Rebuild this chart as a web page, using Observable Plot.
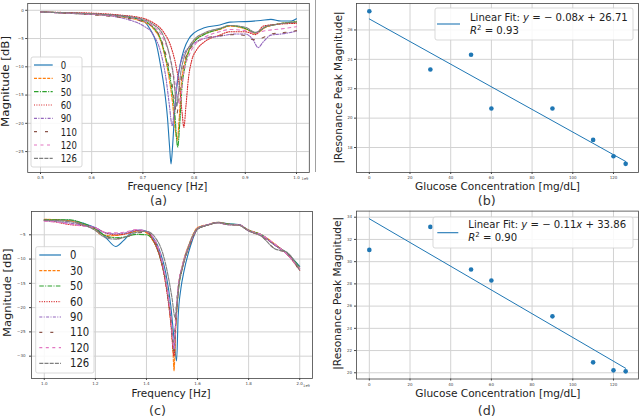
<!DOCTYPE html>
<html><head><meta charset="utf-8">
<script src="https://cdn.jsdelivr.net/npm/d3@7"></script>
<script src="https://cdn.jsdelivr.net/npm/@observablehq/plot@0.6"></script>
<style>
body{margin:0;background:#fff;}
#wrap{position:relative;width:640px;height:417px;overflow:hidden;background:#fff;}
</style></head><body><div id="wrap"></div>
<script>
// ---------- data ----------
const concentrations = ["0","30","50","60","90","110","120","126"];

// Panel (a): frequency (x1e9 Hz) vs magnitude (dB)
const specA_0   = [[0.50,-0.3],[0.55,-0.5],[0.60,-0.7],[0.65,-0.9],[0.68,-1.3],[0.70,-1.8],[0.715,-3.5],[0.725,-5.5],[0.735,-10],[0.742,-14],[0.748,-19],[0.752,-24],[0.755,-27.2],[0.758,-24],[0.762,-18],[0.767,-13],[0.773,-9.5],[0.78,-7],[0.79,-5],[0.80,-4],[0.82,-3.1],[0.85,-2.6],[0.87,-2.1],[0.90,-2.0],[0.93,-1.8],[0.95,-1.6],[0.97,-1.9],[0.99,-1.9],[1.00,-1.5]];
const specA_30  = [[0.50,-0.3],[0.55,-0.5],[0.60,-0.7],[0.65,-1.1],[0.70,-2.0],[0.72,-3.2],[0.735,-5.5],[0.745,-9],[0.752,-12.5],[0.758,-16.5],[0.763,-21],[0.767,-23],[0.771,-19],[0.775,-13],[0.78,-10],[0.79,-7],[0.80,-5.5],[0.82,-4.2],[0.85,-3.4],[0.87,-2.8],[0.90,-3.3],[0.92,-4.1],[0.94,-3.0],[0.96,-2.5],[1.00,-2.1]];
const specA_50  = [[0.50,-0.3],[0.55,-0.45],[0.60,-0.65],[0.65,-1.0],[0.70,-1.8],[0.72,-3.0],[0.735,-5.2],[0.745,-8.5],[0.755,-13],[0.762,-18],[0.768,-24.2],[0.772,-20],[0.776,-14],[0.782,-10],[0.79,-7.2],[0.80,-5.6],[0.82,-4.3],[0.85,-3.3],[0.87,-2.7],[0.90,-3.2],[0.92,-4.0],[0.94,-2.9],[0.96,-2.5],[1.00,-2.0]];
const specA_60  = [[0.50,-0.3],[0.55,-0.4],[0.60,-0.5],[0.65,-0.8],[0.70,-1.4],[0.72,-2.2],[0.74,-3.8],[0.755,-6.5],[0.765,-10],[0.772,-14],[0.777,-18.5],[0.780,-20.7],[0.784,-17],[0.789,-12],[0.795,-9],[0.805,-7],[0.82,-5.6],[0.85,-4.4],[0.87,-3.8],[0.90,-3.8],[0.92,-4.3],[0.935,-2.8],[0.96,-2.5],[1.00,-2.3]];
const specA_90  = [[0.50,-0.3],[0.55,-0.5],[0.60,-0.7],[0.65,-1.2],[0.68,-1.9],[0.70,-2.7],[0.72,-4.3],[0.735,-7.5],[0.745,-12],[0.752,-17],[0.757,-20.4],[0.762,-17],[0.767,-12.5],[0.772,-10],[0.78,-7.8],[0.79,-6.5],[0.80,-5.8],[0.82,-5.0],[0.85,-4.6],[0.88,-4.2],[0.90,-4.2],[0.915,-5.2],[0.925,-6.6],[0.935,-5.6],[0.95,-4.4],[0.97,-4.2],[1.00,-3.7]];
const specA_110 = [[0.50,-0.3],[0.55,-0.5],[0.60,-0.8],[0.65,-1.2],[0.70,-2.0],[0.72,-3.0],[0.735,-5],[0.748,-9],[0.757,-13],[0.763,-17],[0.766,-18.5],[0.77,-16],[0.775,-12],[0.78,-9.5],[0.79,-7.2],[0.80,-6],[0.82,-5],[0.85,-4.5],[0.88,-4.3],[0.90,-4.5],[0.915,-5.2],[0.93,-5.0],[0.95,-4.2],[0.97,-4.0],[1.00,-3.6]];
const specA_120 = [[0.50,-0.3],[0.55,-0.5],[0.60,-0.7],[0.65,-1.0],[0.70,-1.8],[0.72,-2.8],[0.74,-5],[0.755,-9],[0.763,-13],[0.769,-16],[0.772,-16.5],[0.776,-14],[0.78,-11],[0.79,-8],[0.80,-6.3],[0.82,-4.8],[0.85,-3.8],[0.87,-3.4],[0.90,-3.6],[0.92,-4.0],[0.94,-3.6],[0.97,-3.3],[1.00,-2.9]];
const specA_126 = [[0.50,-0.3],[0.55,-0.45],[0.60,-0.6],[0.65,-0.9],[0.70,-1.6],[0.72,-2.5],[0.74,-4.5],[0.752,-8],[0.76,-12],[0.764,-15.5],[0.766,-17],[0.769,-15],[0.774,-11],[0.78,-8.5],[0.79,-6.5],[0.80,-5.2],[0.82,-4.0],[0.85,-3.2],[0.87,-2.7],[0.90,-3.0],[0.92,-3.9],[0.94,-2.9],[0.96,-2.5],[1.00,-2.1]];

// Panel (c): frequency (x1e9 Hz) vs magnitude (dB)
const specC_0   = [[1.00,-1.9],[1.05,-1.9],[1.10,-2.0],[1.15,-2.6],[1.20,-3.6],[1.24,-5.5],[1.28,-7.4],[1.31,-6.2],[1.34,-4.6],[1.38,-4.0],[1.42,-5.2],[1.45,-8],[1.475,-12.7],[1.495,-19.5],[1.508,-26.4],[1.518,-31],[1.524,-22],[1.535,-16],[1.547,-12.5],[1.573,-7.2],[1.60,-3.8],[1.64,-3.0],[1.68,-2.4],[1.72,-2.7],[1.76,-2.9],[1.80,-4.0],[1.85,-5.0],[1.90,-7.0],[1.95,-8.8],[2.00,-11.5]];
const specC_30  = [[1.00,-1.8],[1.05,-1.9],[1.10,-2.1],[1.15,-2.8],[1.20,-4.0],[1.22,-4.9],[1.26,-5.2],[1.30,-5.0],[1.34,-4.5],[1.38,-4.2],[1.42,-5.8],[1.45,-9],[1.47,-13.5],[1.49,-20.5],[1.503,-28],[1.508,-33],[1.514,-25],[1.525,-16],[1.54,-11.5],[1.57,-6.5],[1.60,-3.5],[1.64,-2.9],[1.68,-2.4],[1.72,-2.8],[1.76,-3.0],[1.80,-4.0],[1.85,-5.0],[1.90,-6.8],[1.95,-9],[2.00,-11.8]];
const specC_50  = [[1.00,-1.9],[1.05,-1.9],[1.10,-1.9],[1.15,-2.6],[1.20,-3.8],[1.24,-5.2],[1.28,-5.6],[1.32,-5.4],[1.36,-4.9],[1.40,-5.0],[1.43,-6.5],[1.455,-10],[1.475,-14.5],[1.495,-22],[1.508,-29],[1.514,-24],[1.525,-16.5],[1.54,-12],[1.57,-7],[1.60,-3.8],[1.64,-3.0],[1.68,-2.5],[1.72,-2.8],[1.76,-2.9],[1.80,-4.1],[1.85,-5.0],[1.90,-7.0],[1.95,-8.8],[2.00,-11.7]];
const specC_60  = [[1.00,-2.0],[1.05,-2.4],[1.10,-2.9],[1.15,-3.1],[1.20,-3.6],[1.24,-4.6],[1.28,-5.0],[1.32,-4.8],[1.36,-4.1],[1.40,-4.4],[1.43,-6.5],[1.455,-10],[1.475,-15],[1.495,-23],[1.508,-30],[1.514,-24],[1.525,-16],[1.54,-12],[1.57,-7],[1.60,-3.8],[1.64,-3.0],[1.68,-2.5],[1.72,-2.9],[1.76,-2.9],[1.80,-4.2],[1.85,-5.2],[1.90,-7.0],[1.95,-9.0],[2.00,-12.3]];
const specC_90  = [[1.00,-2.1],[1.05,-2.3],[1.10,-2.6],[1.15,-3.0],[1.20,-3.5],[1.24,-4.6],[1.28,-4.8],[1.32,-4.6],[1.36,-4.0],[1.40,-4.3],[1.43,-6],[1.455,-9.5],[1.475,-14.5],[1.495,-22],[1.508,-28.5],[1.514,-23],[1.525,-15.5],[1.54,-11.5],[1.57,-6.8],[1.60,-3.7],[1.64,-2.9],[1.68,-2.5],[1.72,-2.9],[1.76,-2.9],[1.80,-4.2],[1.85,-5.1],[1.90,-7.0],[1.95,-9.0],[2.00,-12.0]];
const specC_110 = [[1.00,-2.0],[1.05,-2.0],[1.10,-2.3],[1.15,-2.9],[1.20,-4.0],[1.24,-5.3],[1.28,-5.8],[1.32,-5.5],[1.36,-4.6],[1.40,-4.5],[1.43,-6],[1.455,-9.5],[1.475,-14.5],[1.495,-22],[1.508,-28],[1.514,-22],[1.525,-15.5],[1.54,-11.8],[1.57,-7],[1.60,-3.8],[1.64,-3.0],[1.68,-2.5],[1.72,-2.9],[1.76,-3.0],[1.80,-4.2],[1.85,-5.3],[1.90,-7.8],[1.95,-8.8],[2.00,-12.5]];
const specC_120 = [[1.00,-2.2],[1.05,-2.4],[1.10,-2.8],[1.15,-3.2],[1.20,-3.6],[1.24,-4.5],[1.28,-4.6],[1.32,-4.4],[1.36,-3.9],[1.40,-4.3],[1.43,-5.8],[1.455,-9],[1.475,-14],[1.495,-21.5],[1.508,-28.5],[1.514,-23],[1.525,-15.5],[1.54,-11.5],[1.57,-6.8],[1.60,-3.7],[1.64,-2.9],[1.68,-2.5],[1.72,-2.9],[1.76,-2.9],[1.80,-4.1],[1.85,-5.0],[1.90,-6.8],[1.95,-9],[2.00,-12.0]];
const specC_126 = [[1.00,-2.0],[1.05,-2.1],[1.10,-2.3],[1.15,-2.9],[1.20,-4.1],[1.24,-5.6],[1.28,-5.9],[1.32,-5.4],[1.36,-4.5],[1.40,-4.3],[1.44,-6],[1.465,-9],[1.485,-13.5],[1.50,-18],[1.512,-22],[1.518,-20],[1.528,-15],[1.545,-11],[1.57,-6.6],[1.60,-3.7],[1.64,-3.0],[1.68,-2.5],[1.72,-2.9],[1.76,-3.0],[1.80,-4.2],[1.85,-5.3],[1.90,-7.8],[1.95,-8.6],[2.00,-12.3]];

// Panels (b) and (d): glucose concentration vs |resonance peak magnitude|
const glucose = [0, 30, 50, 60, 90, 110, 120, 126];
const peakB = [27.27, 23.31, 24.31, 20.66, 20.66, 18.52, 17.41, 16.89];
const peakD = [31.06, 33.13, 29.29, 28.30, 25.08, 20.94, 20.22, 20.13];
const fitX = [0, 126];
const fitB = [26.75, 17.05];
const fitD = [33.86, 20.40];

// tick values
const xTicksA = [0.5, 0.6, 0.7, 0.8, 0.9, 1.0];
const yTicksA = [0, -5, -10, -15, -20, -25];
const xTicksC = [1.0, 1.2, 1.4, 1.6, 1.8, 2.0];
const yTicksC = [-5, -10, -15, -20, -25, -30];
const xTicksG = [0, 20, 40, 60, 80, 100, 120];
const yTicksB = [18, 20, 22, 24, 26];
const yTicksD = [20, 22, 24, 26, 28, 30, 32, 34];

// ---------- styles ----------
const seriesColors = ["#1f77b4","#ff7f0e","#2ca02c","#d62728","#9467bd","#8c564b","#e377c2","#7f7f7f"];
const seriesDashes = [null,"3,1.4","4.5,1.4,1,1.4","1,1.4","3,1.4,1,1.4","3,8","3,3.5","4,1.2"];
const FONT = "DejaVu Sans";
const TXT = "#222";

const specA = [specA_0,specA_30,specA_50,specA_60,specA_90,specA_110,specA_120,specA_126];
const specC = [specC_0,specC_30,specC_50,specC_60,specC_90,specC_110,specC_120,specC_126];
const toRows = (arr) => arr.map(([f, db]) => ({f, db}));

const wrap = document.getElementById("wrap");
const minusFmt = d => (d < 0 ? "\u2212" : "") + Math.abs(d);

function panel(cfg) {
  const svg = Plot.plot({
    width: cfg.w, height: cfg.h,
    marginLeft: cfg.m[0], marginRight: cfg.m[1], marginTop: cfg.m[2], marginBottom: cfg.m[3],
    x: {domain: cfg.xd, axis: null},
    y: {domain: cfg.yd, axis: null},
    style: {background: "transparent", fontFamily: FONT, overflow: "visible"},
    marks: [
      Plot.gridX(cfg.xt, {stroke: "#d2d2d2", strokeOpacity: 1, strokeWidth: 1}),
      Plot.gridY(cfg.yt, {stroke: "#d2d2d2", strokeOpacity: 1, strokeWidth: 1}),
      ...cfg.marks,
      Plot.frame({stroke: "#444", strokeWidth: 0.8}),
      Plot.axisX(cfg.xt, {tickSize: 2, tickPadding: cfg.xpad, fontSize: 4, color: "#444", tickFormat: cfg.xf, label: null}),
      Plot.axisY(cfg.yt, {tickSize: 2, tickPadding: cfg.ypad, fontSize: 4, color: "#444", tickFormat: cfg.yf, label: null})
    ]
  });
  svg.style.position = "absolute";
  svg.style.left = cfg.left + "px";
  svg.style.top = cfg.top + "px";
  wrap.appendChild(svg);
  return svg;
}

function addText(svg, str, x, y, o = {}) {
  const t = d3.select(svg).append("text")
    .attr("x", x).attr("y", y)
    .attr("font-family", FONT).attr("font-size", o.size || 10.5)
    .attr("fill", o.fill || TXT).attr("text-anchor", o.anchor || "middle")
    .text(str);
  if (o.rotate) t.attr("transform", `rotate(-90 ${x} ${y})`);
  if (o.len) t.attr("textLength", o.len).attr("lengthAdjust", "spacingAndGlyphs");
  return t;
}

function seriesLegend(svg, box, ys, sx0, sx1, tx, fs, digitW) {
  const g = d3.select(svg).append("g").attr("text-anchor", "start");
  g.append("rect").attr("x", box[0]).attr("y", box[1])
    .attr("width", box[2] - box[0]).attr("height", box[3] - box[1])
    .attr("rx", 2).attr("fill", "#fff").attr("fill-opacity", 0.85)
    .attr("stroke", "#cfcfcf").attr("stroke-width", 0.8);
  concentrations.forEach((c, i) => {
    const l = g.append("line").attr("x1", sx0).attr("x2", sx1).attr("y1", ys[i]).attr("y2", ys[i])
      .attr("stroke", seriesColors[i]).attr("stroke-width", 1.2);
    if (seriesDashes[i]) l.attr("stroke-dasharray", seriesDashes[i]);
    g.append("text").attr("x", tx).attr("y", ys[i] + 4)
      .attr("text-anchor", "start")
      .attr("font-family", FONT).attr("font-size", fs).attr("fill", TXT)
      .attr("textLength", c.length * digitW).attr("lengthAdjust", "spacingAndGlyphs")
      .text(c);
  });
}

function fitLegend(svg, box, lineY, lx0, lx1, tx, y1, y2, slope, icpt, r2) {
  const g = d3.select(svg).append("g").attr("font-family", FONT).attr("fill", TXT).attr("text-anchor", "start");
  g.append("rect").attr("x", box[0]).attr("y", box[1])
    .attr("width", box[2] - box[0]).attr("height", box[3] - box[1])
    .attr("rx", 2).attr("fill", "#fff").attr("fill-opacity", 0.85)
    .attr("stroke", "#cfcfcf").attr("stroke-width", 0.8);
  g.append("line").attr("x1", lx0).attr("x2", lx1).attr("y1", lineY).attr("y2", lineY)
    .attr("stroke", "#1f77b4").attr("stroke-width", 1.1);
  const t = g.append("text").attr("x", tx).attr("y", y1).attr("font-size", 10.1).attr("text-anchor", "start");
  t.append("tspan").text("Linear Fit: ");
  t.append("tspan").attr("font-style", "italic").text("y");
  t.append("tspan").text(" = \u2212 " + slope);
  t.append("tspan").attr("font-style", "italic").text("x");
  t.append("tspan").text(" + " + icpt);
  const t2 = g.append("text").attr("x", tx).attr("y", y2).attr("font-size", 10.1).attr("text-anchor", "start");
  t2.append("tspan").attr("font-style", "italic").text("R");
  t2.append("tspan").attr("font-size", 7).attr("dy", -4).text("2");
  t2.append("tspan").attr("dy", 4).text(" = " + r2);
}

function spectrumMarks(spec) {
  return spec.map((arr, i) => Plot.line(toRows(arr), {
    x: "f", y: "db", stroke: seriesColors[i], strokeWidth: 1.1,
    strokeDasharray: seriesDashes[i] || undefined, curve: "monotone-x"
  }));
}

function fitMarks(peaks, fit) {
  const pts = glucose.map((g, i) => ({g, v: peaks[i]}));
  const line = fitX.map((g, i) => ({g, v: fit[i]}));
  return [
    Plot.line(line, {x: "g", y: "v", stroke: "#1f77b4", strokeWidth: 1}),
    Plot.dot(pts, {x: "g", y: "v", r: 2.3, fill: "#1f77b4", stroke: "none"})
  ];
}

// ---------- panel (a) ----------
const svgA = panel({
  left: 0, top: 0, w: 320, h: 208, m: [27.2, 11.2, 3, 36],
  xd: [0.475, 1.025], yd: [-28.7, 1.2], xt: xTicksA, yt: yTicksA,
  xf: d => d.toFixed(1), yf: minusFmt, xpad: 1.5, ypad: 2,
  marks: spectrumMarks(specA)
});
seriesLegend(svgA, [31, 57, 82, 167], [65, 78.3, 91.7, 105, 118.3, 131.7, 145, 158.3], 34, 52.7, 60.7, 11, 5.4);
addText(svgA, "Frequency [Hz]", 167.5, 190, {size: 10.5, len: 80});
addText(svgA, "Magnitude [dB]", 8.5, 81.5, {size: 11, len: 91, rotate: true});
addText(svgA, "(a)", 158.5, 205, {size: 12.5, len: 17, fill: "#333"});
addText(svgA, "1e9", 305, 179.5, {size: 3.6, fill: "#444"});
d3.select(svgA).append("line").attr("x1", 315.5).attr("x2", 315.5).attr("y1", 0).attr("y2", 172)
  .attr("stroke", "#888").attr("stroke-width", 0.8);

// ---------- panel (b) ----------
const svgB = panel({
  left: 320, top: 0, w: 320, h: 208, m: [36, 2, 3, 36],
  xd: [-6.3, 132.3], yd: [16.3, 27.8], xt: xTicksG, yt: yTicksB,
  xf: d => String(d), yf: d => String(d), xpad: 1.5, ypad: 2,
  marks: fitMarks(peakB, fitB)
});
fitLegend(svgB, [115, 8, 313, 40], 24, 117, 140, 150, 20.5, 34, "0.08", "26.71", "0.93");
addText(svgB, "Glucose Concentration [mg/dL]", 177.5, 190, {size: 10.5, len: 165});
addText(svgB, "|Resonance Peak Magnitude|", 21.5, 87.5, {size: 10.5, len: 152, rotate: true});
addText(svgB, "(b)", 166.7, 205, {size: 12.5, len: 18, fill: "#333"});

// ---------- panel (c) ----------
const svgC = panel({
  left: 0, top: 205, w: 320, h: 212, m: [31, 8, 6, 39],
  xd: [0.95, 2.05], yd: [-34.6, -0.2], xt: xTicksC, yt: yTicksC,
  xf: d => d.toFixed(1), yf: minusFmt, xpad: 1.5, ypad: 4,
  marks: spectrumMarks(specC)
});
seriesLegend(svgC, [35.7, 41.7, 94, 168], [50, 65.7, 81, 96.7, 112, 127.3, 142.7, 158.3], 39.3, 61, 70, 11.5, 6.4);
addText(svgC, "Frequency [Hz]", 171, 192, {size: 10.5, len: 79});
addText(svgC, "Magnitude [dB]", 11.5, 87.7, {size: 11, len: 88.6, rotate: true});
addText(svgC, "(c)", 157.5, 209.5, {size: 12.5, len: 17, fill: "#333"});
addText(svgC, "1e9", 306.5, 181.5, {size: 3.6, fill: "#444"});

// ---------- panel (d) ----------
const svgD = panel({
  left: 320, top: 205, w: 320, h: 212, m: [36, 2, 5.6, 38.5],
  xd: [-6.3, 132.3], yd: [19.44, 34.55], xt: xTicksG, yt: yTicksD,
  xf: d => String(d), yf: d => String(d), xpad: 2, ypad: 2.5,
  marks: fitMarks(peakD, fitD)
});
fitLegend(svgD, [113, 12, 313, 43], 27.7, 117.3, 138.3, 148.3, 22.5, 36, "0.11", "33.86", "0.90");
addText(svgD, "Glucose Concentration [mg/dL]", 177.8, 191.5, {size: 10.5, len: 165});
addText(svgD, "|Resonance Peak Magnitude|", 21.5, 88.3, {size: 10.5, len: 153, rotate: true});
addText(svgD, "(d)", 166.7, 209.5, {size: 12.5, len: 18, fill: "#333"});
</script></body></html>
